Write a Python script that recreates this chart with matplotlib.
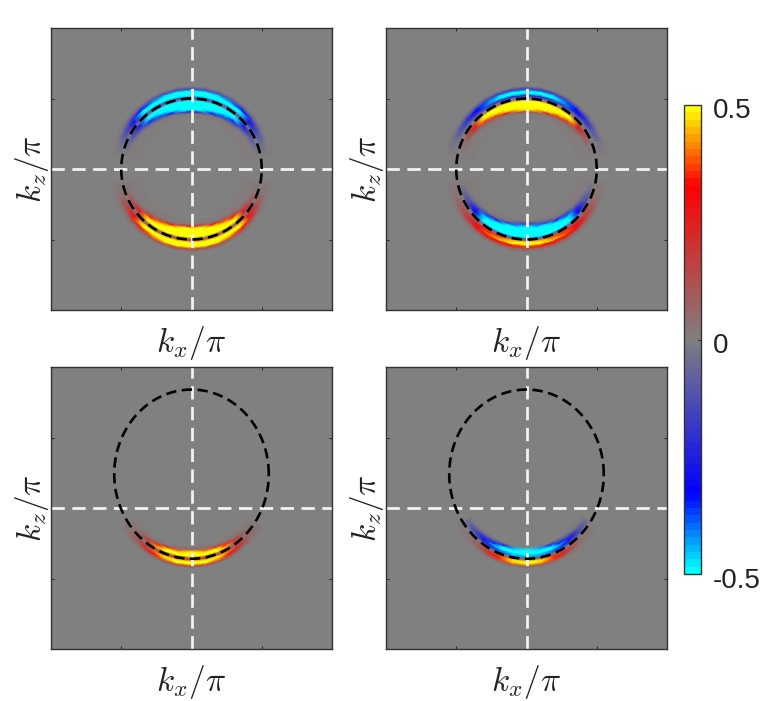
import numpy as np
import matplotlib
matplotlib.use('Agg')
import matplotlib.pyplot as plt
from matplotlib.colors import LinearSegmentedColormap, Normalize
from matplotlib.cm import ScalarMappable
from matplotlib.transforms import ScaledTranslation

plt.rcParams['mathtext.fontset'] = 'cm'
plt.rcParams['font.family'] = ['Liberation Sans', 'DejaVu Sans']

# band tables: rows = offset from the dashed curve,
# columns = angle away from the kz axis (degrees)
top_angles = [0, 10, 20, 30, 40, 50, 60, 70, 80]
top_offsets = [0.085, 0.065, 0.05, 0.035, 0.02, 0.005, -0.005, -0.02, -0.035, -0.05, -0.065, -0.08, -0.095, -0.11, -0.13]

left_band = [
    [0, 0, 0, 0, 0, 0, 0, 0, 0],
    [-.15, -.15, -.13, -.1, -.08, -.05, -.03, 0, 0],
    [-.5, -.5, -.47, -.42, -.33, -.18, -.08, -.02, 0],
    [-.7, -.7, -.66, -.6, -.5, -.26, -.13, -.04, 0],
    [-.7, -.7, -.66, -.6, -.5, -.27, -.14, -.04, 0],
    [-.15, -.15, -.14, -.12, -.1, -.08, -.05, -.01, 0],
    [-.05, -.05, -.05, -.05, -.06, -.06, -.04, -.01, 0],
    [-.7, -.7, -.7, -.7, -.62, -.27, -.13, -.04, 0],
    [-.8, -.8, -.78, -.72, -.58, -.2, -.08, -.02, 0],
    [-.8, -.78, -.72, -.58, -.35, -.1, -.03, 0, 0],
    [-.8, -.76, -.62, -.38, -.14, -.03, 0, 0, 0],
    [-.72, -.55, -.28, -.1, -.02, 0, 0, 0, 0],
    [-.28, -.15, -.04, 0, 0, 0, 0, 0, 0],
    [0, 0, 0, 0, 0, 0, 0, 0, 0],
    [0, 0, 0, 0, 0, 0, 0, 0, 0],
]
right_top_band = [
    [0, 0, 0, 0, 0, 0, 0, 0, 0],
    [-.2, -.2, -.18, -.15, -.1, -.07, -.04, -.02, 0],
    [-.55, -.52, -.47, -.4, -.3, -.2, -.1, -.03, 0],
    [-.6, -.57, -.5, -.43, -.33, -.2, -.1, -.03, 0],
    [-.25, -.25, -.22, -.2, -.15, -.1, -.05, -.01, 0],
    [0, 0, 0, 0, 0, 0, 0, 0, 0],
    [.05, .05, .05, .05, .04, .03, .02, 0, 0],
    [.6, .6, .58, .58, .55, .25, .12, .03, 0],
    [.8, .8, .78, .72, .55, .24, .1, .02, 0],
    [.8, .78, .72, .58, .38, .14, .05, 0, 0],
    [.8, .74, .58, .36, .13, .04, 0, 0, 0],
    [.58, .45, .24, .1, .02, 0, 0, 0, 0],
    [.15, .08, .02, 0, 0, 0, 0, 0, 0],
    [0, 0, 0, 0, 0, 0, 0, 0, 0],
    [0, 0, 0, 0, 0, 0, 0, 0, 0],
]
right_bottom_band = [
    [0, 0, 0, 0, 0, 0, 0, 0, 0],
    [.1, .1, .1, .1, .07, .05, .03, 0, 0],
    [.35, .34, .32, .3, .25, .15, .08, .02, 0],
    [.55, .52, .46, .4, .3, .2, .1, .03, 0],
    [.5, .47, .4, .35, .25, .15, .08, .02, 0],
    [.1, .1, .08, .07, .05, .03, 0, 0, 0],
    [-.1, -.1, -.09, -.08, -.05, -.03, -.01, 0, 0],
    [-.8, -.8, -.76, -.72, -.65, -.3, -.15, -.05, 0],
    [-.9, -.9, -.86, -.8, -.7, -.3, -.13, -.04, 0],
    [-.9, -.9, -.84, -.74, -.6, -.22, -.08, -.02, 0],
    [-.9, -.87, -.76, -.58, -.38, -.1, -.03, 0, 0],
    [-.85, -.72, -.5, -.26, -.14, -.02, 0, 0, 0],
    [-.6, -.42, -.18, -.06, 0, 0, 0, 0, 0],
    [-.2, -.1, -.03, 0, 0, 0, 0, 0, 0],
    [0, 0, 0, 0, 0, 0, 0, 0, 0],
]

low_angles = [0, 10, 20, 27, 35, 45, 55]
low_offsets = [0.065, 0.05, 0.035, 0.02, 0.005, -0.005, -0.02, -0.035, -0.05, -0.065, -0.08]

low_left_band = [
    [0, 0, 0, 0, 0, 0, 0],
    [.15, .15, .12, .08, .05, .02, 0],
    [.5, .5, .42, .3, .18, .06, 0],
    [.6, .6, .52, .4, .2, .07, 0],
    [.2, .2, .15, .12, .07, .02, 0],
    [.1, .1, .1, .08, .05, .02, 0],
    [.7, .7, .62, .45, .2, .06, 0],
    [.75, .72, .55, .35, .12, .03, 0],
    [.55, .4, .2, .08, .02, 0, 0],
    [.1, .05, 0, 0, 0, 0, 0],
    [0, 0, 0, 0, 0, 0, 0],
]
low_right_band = [
    [0, 0, 0, 0, 0, 0, 0],
    [.1, .1, .08, .05, .03, .01, 0],
    [.5, .45, .35, .2, .1, .03, 0],
    [.55, .5, .35, .22, .1, .03, 0],
    [.1, .1, .07, .05, .02, 0, 0],
    [-.05, -.05, -.05, -.05, -.04, -.02, 0],
    [-.45, -.45, -.4, -.35, -.25, -.12, -.03],
    [-.8, -.75, -.6, -.45, -.28, -.14, -.04],
    [-.8, -.7, -.52, -.35, -.2, -.08, -.02],
    [-.6, -.45, -.25, -.12, -.05, -.01, 0],
    [0, 0, 0, 0, 0, 0, 0],
]

color_stops = [(0, 1, 1), (0, 0, 1), (0.5, 0.5, 0.5), (1, 0, 0), (1, 1, 0)]
stop_positions = [0, 1 / 6, 0.5, 5 / 6, 1]
cmap = LinearSegmentedColormap.from_list('mtl', list(zip(stop_positions, color_stops)), N=64)
norm = Normalize(-0.5, 0.5)


def draw_band(ax, angles, offsets, table, rx, rz, cz, side):
    ang = np.radians(np.r_[-np.array(angles)[:0:-1], angles])
    vals = np.array(table, dtype=float)
    vals = np.hstack([vals[:, :0:-1], vals])
    off = np.array(offsets)[:, None]
    X = (rx + off) * np.sin(ang)
    Z = cz + side * (rz + off) * np.cos(ang)
    ax.pcolormesh(X, Z, vals, shading='gouraud', cmap=cmap, norm=norm)


def setup_axes(left, top):
    ax = fig.add_axes([left / 761, 1 - (top + 282) / 701, 281 / 761, 282 / 701])
    ax.set_facecolor((0.5, 0.5, 0.5))
    return ax


def finish_axes(ax, rx, rz, cz):
    ax.plot([0, 0], [-1, 1], color='#f2f2f2', lw=2.0, dashes=(4.8, 2.7))
    ax.plot([-1, 1], [0, 0], color='#f2f2f2', lw=2.0, dashes=(4.8, 2.7))
    t = np.linspace(0, 2 * np.pi, 400)
    ax.plot(rx * np.cos(t), cz + rz * np.sin(t), color='black', lw=1.9, dashes=(3.9, 2.1))
    ax.set_xlim(-1, 1)
    ax.set_ylim(-1, 1)
    ax.set_xticks([-0.5, 0, 0.5])
    ax.set_yticks([-0.5, 0, 0.5])
    ax.tick_params(direction='in', length=2.5, width=0.7, color='#222222',
                   top=True, right=True, labelbottom=False, labelleft=False)
    for s in ax.spines.values():
        s.set_color('#333333')
        s.set_linewidth(1.0)
    ax.set_xlabel(r'$k_x/\pi$', fontsize=24, labelpad=10, color='#222222')
    ax.set_ylabel(r'$k_z/\pi$', fontsize=24, labelpad=0, color='#222222')


fig = plt.figure(figsize=(7.61, 7.01), dpi=100)

# top left
ax1 = setup_axes(51, 28)
draw_band(ax1, top_angles, top_offsets, left_band, 0.5, 0.5, 0, 1)
draw_band(ax1, top_angles, top_offsets, -np.array(left_band), 0.5, 0.5, 0, -1)
finish_axes(ax1, 0.5, 0.5, 0)

# top right
ax2 = setup_axes(386, 28)
draw_band(ax2, top_angles, top_offsets, right_top_band, 0.5, 0.5, 0, 1)
draw_band(ax2, top_angles, top_offsets, right_bottom_band, 0.5, 0.5, 0, -1)
finish_axes(ax2, 0.5, 0.5, 0)

# bottom left
ax3 = setup_axes(51, 367)
draw_band(ax3, low_angles, low_offsets, low_left_band, 0.55, 0.6, 0.24, -1)
finish_axes(ax3, 0.55, 0.6, 0.24)

# bottom right
ax4 = setup_axes(386, 367)
draw_band(ax4, low_angles, low_offsets, low_right_band, 0.55, 0.6, 0.24, -1)
finish_axes(ax4, 0.55, 0.6, 0.24)

# colorbar
cax = fig.add_axes([684 / 761, 1 - 574 / 701, 16.5 / 761, 469 / 701])
cb = fig.colorbar(ScalarMappable(norm=norm, cmap=cmap), cax=cax, ticks=[-0.5, 0, 0.5])
cb.ax.set_yticklabels(['-0.5', '0', '0.5'], fontsize=20, color='#222222')
cb.ax.tick_params(direction='in', length=2, width=0.7, pad=9, color='#222222')
cb.outline.set_edgecolor('#333333')
cb.outline.set_linewidth(1.0)
label_shift = ScaledTranslation(0, -3.5 / 100, fig.dpi_scale_trans)
for lab in cb.ax.get_yticklabels():
    lab.set_transform(lab.get_transform() + label_shift)

plt.savefig('out.png', dpi=100)
